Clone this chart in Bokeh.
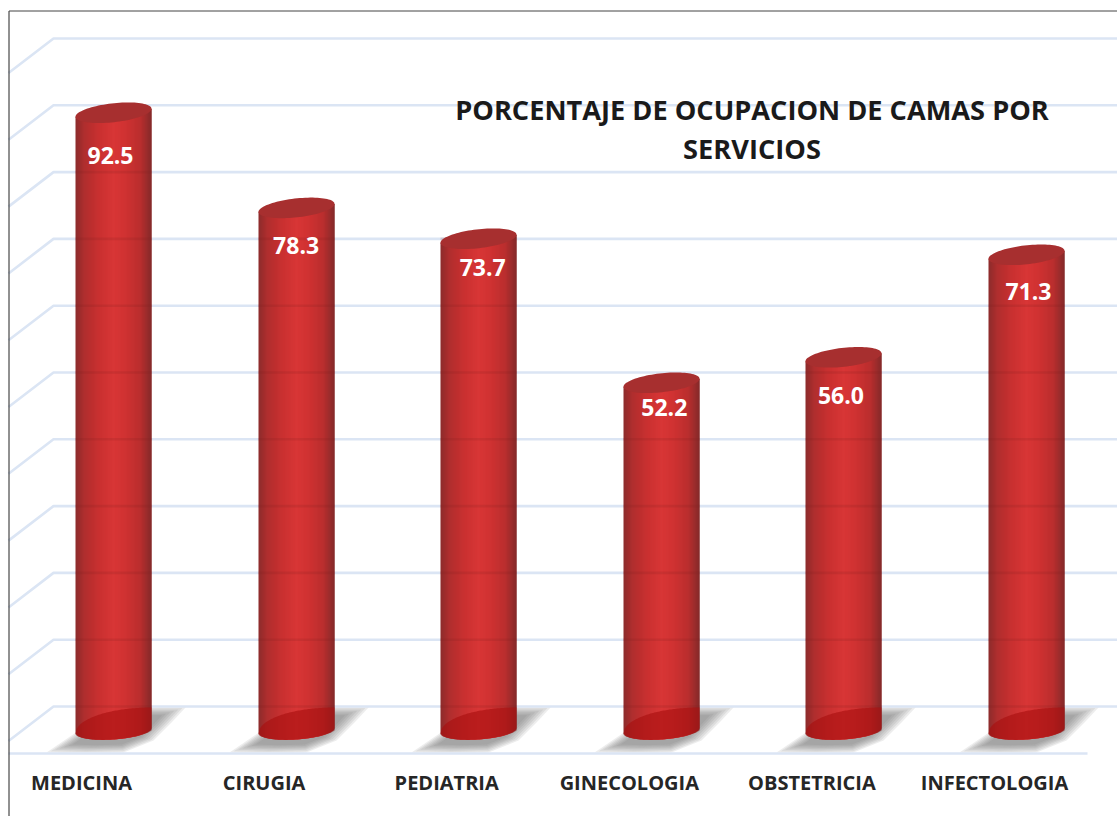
import numpy as np
from bokeh.plotting import figure
from bokeh.models import Range1d, FixedTicker
from bokeh.core.properties import value
from bokeh.embed import file_html
from bokeh.resources import INLINE

categories = ["MEDICINA", "CIRUGIA", "PEDIATRIA", "GINECOLOGIA", "OBSTETRICIA", "INFECTOLOGIA"]
values = [92.5, 78.3, 73.7, 52.2, 56.0, 71.3]
value_labels = ["92.5", "78.3", "73.7", "52.2", "56.0", "71.3"]
grid_values = [0, 10, 20, 30, 40, 50, 60, 70, 80, 90, 100]
title_lines = ["PORCENTAJE DE OCUPACION DE CAMAS POR", "SERVICIOS"]

# pixel calibration of the picture
X0, XS = 113.0, 182.6      # first bar centre, bar spacing
Y0, YS = 732.0, 6.7        # value 0, px per value
FL, FR, FT, FB = 0, 1117, 0, 816
def xd(px): return (np.asarray(px, float) - X0) / XS
def yd(py): return (Y0 - np.asarray(py, float)) / YS

p = figure(frame_width=FR - FL, frame_height=FB - FT, min_border_left=0, min_border_right=0,
           min_border_top=0, min_border_bottom=0, output_backend="svg", toolbar_location=None,
           x_range=Range1d(float(xd(FL)), float(xd(FR))), y_range=Range1d(float(yd(FB)), float(yd(FT))),
           background_fill_color="white", border_fill_color="white", outline_line_color=None)
p.grid.visible = False
p.yaxis.visible = False

ax = p.xaxis[0]
ax.fixed_location = float(yd(760))
ax.ticker = FixedTicker(ticks=[i - 32 / XS for i in range(len(categories))])
ax.major_label_overrides = {i - 32 / XS: c for i, c in enumerate(categories)}
ax.axis_line_color = None
ax.major_tick_line_color = None
ax.minor_tick_line_color = None
ax.major_label_standoff = 2
ax.major_label_text_font = "Open Sans"
ax.major_label_text_font_style = "bold"
ax.major_label_text_font_size = "20px"
ax.major_label_text_color = "#262626"

# shadows on the floor
shadow = np.array([(-67, 22), (-39, 3), (0, -12), (16, -24), (73, -24), (58, -8), (40, 10), (10, 22), (-30, 23)], float)
for i in range(len(categories)):
    cx = round(X0 + XS * i)
    for s in (1.0, 0.94, 0.88, 0.82, 0.76, 0.70, 0.64):
        p.patch(xd(cx + 5 + (shadow[:, 0] - 5) * s), yd(730 + shadow[:, 1] * s),
                fill_color="#6a6a6a", fill_alpha=0.12, line_color=None)

# wall and floor grid
GRID = "#dbe5f4"
for g in grid_values:
    by = 706 - 6.68 * g
    p.line(xd([8, 53, FR]), yd([by + 33 * 45 / 43, by, by]), line_color=GRID, line_width=2.6)
p.line(xd([8, 1087]), yd([753, 753]), line_color=GRID, line_width=2.6)

# cylinders
A, BT, BB = 38.0, 9.5, 9.0
SLOPE = 0.105
xs_rel = np.arange(-A, A, 1.0)
stops_x = [0.0, 0.12, 0.3, 0.5, 0.65, 0.85, 1.0]
stops_c = np.array([[140, 44, 44], [176, 46, 46], [200, 48, 48], [216, 54, 54],
                    [208, 50, 50], [186, 46, 46], [132, 42, 42]], float)
def shade(t):
    return "#%02x%02x%02x" % tuple(int(round(np.interp(t, stops_x, stops_c[:, k]))) for k in range(3))

for i, v in enumerate(values):
    cx = round(X0 + XS * i)
    top_y = Y0 - YS * v
    rel = xs_rel + 0.5
    ell = np.sqrt(np.clip(1 - (rel / A) ** 2, 0, 1))
    lo = 730 - 0.07 * rel + BB * ell
    right_edge = np.minimum(cx + xs_rel + 2, cx + A)
    p.quad(left=xd(cx + xs_rel), right=xd(right_edge), top=yd(top_y - SLOPE * rel), bottom=yd(lo),
           fill_color=[shade((r + A) / (2 * A)) for r in rel], line_color=None)
    # grid seen through the cylinder
    for g in grid_values:
        by = 706 - 6.68 * g
        if by > top_y:
            p.line(xd([cx - A, cx + A]), yd([by, by]), line_color="#7a2020", line_alpha=0.16, line_width=2.6)
    # floor shadow seen through the cylinder
    t = np.linspace(-1, 1, 60)
    arc_y = 733 - 26 * np.sqrt(np.clip(1 - ((t - 1) / 2) ** 2, 0, 1))
    low_t = t[::-1]
    low_y = 730 - 0.07 * A * low_t + BB * np.sqrt(np.clip(1 - low_t ** 2, 0, 1))
    p.patch(xd(cx + A * np.r_[t, low_t]), yd(np.r_[arc_y, low_y]),
            fill_color="#a80e0e", fill_alpha=0.62, line_color=None)
    # top face
    th = np.linspace(0, 2 * np.pi, 90)
    p.patch(xd(cx + A * np.cos(th)), yd(top_y - SLOPE * A * np.cos(th) + BT * np.sin(th)),
            fill_color="#a72f2f", line_color=None)

# value labels, hand placed in the original
label_dx = [-3, 0, 4, 3, -3, 2]
label_dy = [44, 39, 30, 26, 39, 38]
p.text(x=[float(xd(X0 + XS * i + label_dx[i])) for i in range(len(values))],
       y=[float(yd(Y0 - YS * v + label_dy[i] - 1)) for i, v in enumerate(values)],
       text=value_labels, text_color="white", text_font=value("Open Sans"), text_font_style="bold",
       text_font_size="23px", text_align="center", text_baseline="middle")

p.text(x=[float(xd(751.5))] * 2, y=[float(yd(109)), float(yd(148))], text=title_lines, text_color="#1a1a1a",
       text_font=value("Open Sans"), text_font_style="bold", text_font_size="27.2px",
       text_align="center", text_baseline="middle")

# picture border
p.line(xd([8.5, 8.5]), yd([FB, 10.5]), line_color="#222222", line_width=1)
p.line(xd([8.5, FR]), yd([10.5, 10.5]), line_color="#444444", line_width=1)

open("out.html", "w").write(file_html(p, INLINE))
